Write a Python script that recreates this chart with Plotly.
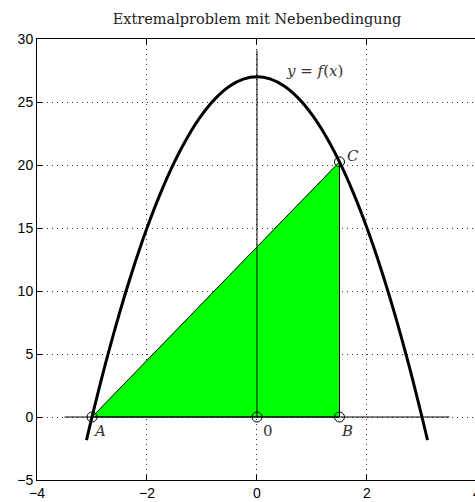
import plotly.graph_objects as go

# Curve y = f(x)
curve_x = [-3.1, -3.0, -2.75, -2.5, -2.25, -2.0, -1.75, -1.5, -1.25, -1.0, -0.75, -0.5, -0.25, 0.0,
           0.25, 0.5, 0.75, 1.0, 1.25, 1.5, 1.75, 2.0, 2.25, 2.5, 2.75, 3.0, 3.1]
curve_y = [-1.83, 0.0, 4.31, 8.25, 11.81, 15.0, 17.81, 20.25, 22.31, 24.0, 25.31, 26.25, 26.81, 27.0,
           26.81, 26.25, 25.31, 24.0, 22.31, 20.25, 17.81, 15.0, 11.81, 8.25, 4.31, 0.0, -1.83]

# Triangle A, B, C
tri_x = [-3.0, 1.5, 1.5, -3.0]
tri_y = [0.0, 0.0, 20.25, 0.0]

# Marked points
pt_names = ["A", "0", "B", "C"]
pt_x = [-3.0, 0.0, 1.5, 1.5]
pt_y = [0.0, 0.0, 0.0, 20.25]
lbl_x = [-2.86, 0.2, 1.64, 1.74]
lbl_y = [-1.1, -1.1, -1.1, 20.75]

# Axes lines
haxis_x = [-3.5, 3.5]
haxis_y = [0, 0]
vaxis_x = [0, 0]
vaxis_y = [0, 29.1]

x_ticks = [-4, -2, 0, 2, 4]
y_ticks = [-5, 0, 5, 10, 15, 20, 25, 30]

SERIF = "DejaVu Serif"

fig = go.Figure()
fig.add_trace(go.Scatter(x=tri_x, y=tri_y, fill="toself", fillcolor="#00ff00",
                         mode="lines", line=dict(color="black", width=1), hoverinfo="skip"))
fig.add_trace(go.Scatter(x=haxis_x, y=haxis_y, mode="lines", line=dict(color="black", width=1)))
fig.add_trace(go.Scatter(x=vaxis_x, y=vaxis_y, mode="lines", line=dict(color="black", width=1)))
fig.add_trace(go.Scatter(x=curve_x, y=curve_y, mode="lines", line=dict(color="black", width=3, shape="spline")))
fig.add_trace(go.Scatter(x=pt_x, y=pt_y, mode="markers",
                         marker=dict(symbol="circle-open", size=10, color="black", line=dict(width=1))))

for n, lx, ly in zip(pt_names, lbl_x, lbl_y):
    fig.add_annotation(x=lx, y=ly, text=n if n == "0" else f"<i>{n}</i>", showarrow=False,
                       font=dict(family=SERIF, size=15, color="#333"))
fig.add_annotation(x=1.05, y=27.5, text="<i>y</i> = <i>f</i>(<i>x</i>)", showarrow=False,
                   font=dict(family=SERIF, size=15, color="#333"))
# partially visible tick label at the cut-off right edge
fig.add_annotation(xref="paper", yref="paper", x=1.004, y=0, yshift=-13, text="4", showarrow=False,
                   xanchor="center", yanchor="middle",
                   font=dict(family="Liberation Sans", size=14, color="black"))

fig.update_layout(
    width=475, height=502,
    margin=dict(l=37, r=0, t=39, b=22, autoexpand=False),
    paper_bgcolor="white", plot_bgcolor="white",
    showlegend=False,
    title=dict(text="Extremalproblem mit Nebenbedingung", x=0.541, xanchor="center", y=0.962, yanchor="middle",
               font=dict(family=SERIF, size=14.5, color="#222")),
    font=dict(family="Liberation Sans", size=14, color="black"),
)
fig.update_xaxes(range=[-4, 3.964], tickvals=x_ticks, ticktext=["\u22124", "\u22122", "0", "2", "4"],
                 showgrid=True, gridcolor="#333", griddash="1px,4px", gridwidth=1,
                 showline=True, linecolor="black", linewidth=1, mirror="ticks",
                 ticks="inside", ticklen=5, tickcolor="black", zeroline=False, automargin=False)
fig.update_yaxes(range=[-5, 30], tickvals=y_ticks, ticktext=["\u22125", "0", "5", "10", "15", "20", "25", "30"],
                 showgrid=True, gridcolor="#333", griddash="1px,4px", gridwidth=1,
                 showline=True, linecolor="black", linewidth=1, mirror=False,
                 ticks="inside", ticklen=5, tickcolor="black", zeroline=False, automargin=False)

fig.write_html("out.html", config={"displayModeBar": False},
               post_script="document.body.style.margin='0';")
